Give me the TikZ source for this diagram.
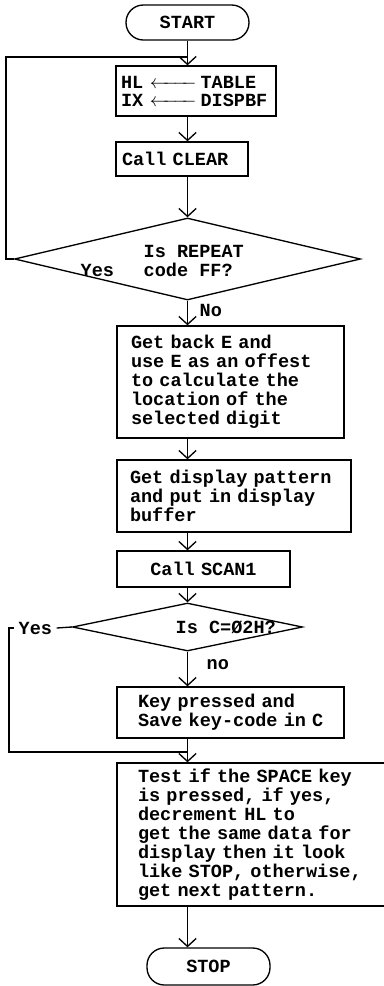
\documentclass[tikz,border=0pt]{standalone}
\usepackage{fontspec}
\usetikzlibrary{shapes.geometric,arrows.meta}
\newfontfamily\flow{Liberation Mono}
\newcommand{\ff}{\flow\bfseries\fontsize{13.9pt}{14.25pt}\selectfont}

\begin{document}
\begin{tikzpicture}[x=0.75pt,y=-0.75pt,line width=1pt,>={Straight Barb[length=6pt,width=13pt]},
    every node/.style={font=\ff},
    term/.style={draw,rounded corners=13pt,minimum width=92.25pt,minimum height=26.25pt},
    proc/.style={draw,align=left,inner xsep=0pt,inner ysep=0pt},
    dec/.style={draw,diamond,inner sep=0pt},
    lbl/.style={anchor=west,inner sep=0pt}]
    \useasboundingbox (0,0) rectangle (383,986);
    \node[term] (st) at (187.5,22.5) {START};
    \node[proc,text width=120pt,minimum height=37.5pt] (b1) at (196,91) {\leftskip=3.75pt HL\hspace{5pt}\makebox[35pt]{\leftarrowfill}\hspace{3pt}TABLE\\[-0.75pt]
        IX\hspace{5pt}\makebox[35pt]{\leftarrowfill}\hspace{3pt}DISPBF\par};
    \node[proc,text width=99pt,minimum height=25.5pt] (b2) at (182,159) {\leftskip=4.5pt Call CLEAR\par};
    \node[dec,minimum width=259.5pt,minimum height=61.5pt] (q1) at (187.5,259) {};
    \node[lbl,align=left] (q1t) at (143,261) {Is REPEAT\\code FF?};
    \node[lbl] (y1) at (80,270) {Yes};
    \node[lbl] (n1) at (199,310) {No};
    \node[proc,text width=170.25pt,minimum height=84pt] (b3) at (230.5,382) {\leftskip=10.5pt Get back E and\\use E as an offest\\to calculate the\\location of the\\selected digit\par};
    \node[proc,text width=175.5pt,minimum height=54pt] (b4) at (234,496) {\leftskip=9.75pt Get display pattern\\and put in display\\buffer\par};
    \node[proc,align=center,text width=129.75pt,minimum height=27pt] (b5) at (203.5,569) {Call SCAN1};
    \node[dec,minimum width=172.5pt,minimum height=36pt] (q2) at (187.5,627) {};
    \node[lbl] (q2t) at (175,627) {Is C=Ø2H?};
    \node[lbl,inner xsep=3pt] (y2) at (14,628) {Yes};
    \node[lbl] (n2) at (206,665) {no};
    \node[proc,text width=170.25pt,minimum height=38.25pt] (b7) at (230.5,712.5) {\leftskip=15.75pt Key pressed and\\Save key-code in C\par};
    \node[proc,text width=208.5pt,minimum height=107.25pt] (b8) at (256,834.5) {\leftskip=15.75pt Test if the SPACE key\\is pressed, if yes,\\decrement HL to\\get the same data for\\display then it look\\like STOP, otherwise,\\get next pattern.\par};
    \node[term,minimum height=27.75pt] (sp) at (208.5,966.5) {STOP};
    \coordinate (j1) at (187.5,57);
    \coordinate (j2) at (187.5,752);
    \draw[->] (st) -- (b1.north -| st);
    \draw[->] (b1.south -| st) -- (b2.north -| st);
    \draw[->] (b2.south -| st) -- (q1.north);
    \draw (q1.west) -- ++(-8,0) |- (j1);
    \draw[->] (q1.south) -- (b3.north -| st);
    \draw[->] (b3.south -| st) -- (b4.north -| st);
    \draw[->] (b4.south -| st) -- (b5.north -| st);
    \draw[->] (b5.south -| st) -- (q2.north);
    \draw (q2.west) -- (y2.east);
    \draw (y2.west) -- ++(-5,0) |- (j2);
    \draw[->] (q2.south) -- (b7.north -| st);
    \draw[->] (b7.south -| st) -- (b8.north -| st);
    \draw[->] (b8.south -| st) -- (sp.north -| st);
\end{tikzpicture}
\end{document}
